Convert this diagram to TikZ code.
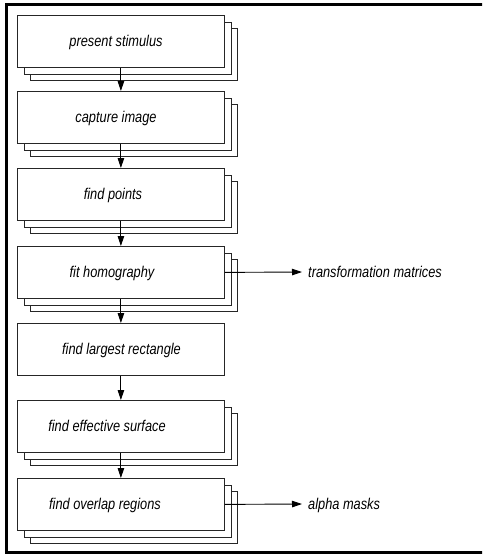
\documentclass[tikz,border=0pt]{standalone}
\usepackage{fontspec}
\setmainfont{Liberation Sans}[FakeStretch=0.82]
\usetikzlibrary{arrows.meta}

\begin{document}
\begin{tikzpicture}[x=1pt,y=-1pt,
  box/.style={draw=black!85, line width=0.8pt, fill=white,
    minimum width=207pt, minimum height=52pt, inner sep=0pt, anchor=north west},
  lbl/.style={font=\fontsize{15.6}{18}\selectfont\itshape, anchor=base, inner sep=0pt},
  flow/.style={-{Triangle[length=10pt,width=6.5pt]}, line width=0.9pt}]
\useasboundingbox (0,0) rectangle (482,554);
\clip (0,0) rectangle (482,554);
\fill[white] (0,0) rectangle (482,554);
% outer frame (right side runs off the page)
\draw[line width=3.4pt] (6.5,4.5) rectangle (520,552.5);

% process boxes, most of them stacked three deep
\foreach \i/\top/\stk in {1/15/1, 2/91/1, 3/168/1, 4/246/1, 5/323/0, 6/400/1, 7/478/1} {
  \ifnum\stk=1
    \node[box] (c\i) at (30,\top+13) {};
    \node[box] (b\i) at (23.5,\top+6.5) {};
  \fi
  \node[box] (f\i) at (17,\top) {};
}

% step labels
\node[lbl] (t1) at (116,46.5)  {present stimulus};
\node[lbl] (t2) at (116,122.5) {capture image};
\node[lbl] (t3) at (113,199.5) {find points};
\node[lbl] (t4) at (112,277.5) {fit homography};
\node[lbl] (t5) at (121.5,354.5) {find largest rectangle};
\node[lbl] (t6) at (107,431.5) {find effective surface};
\node[lbl] (t7) at (105,509.5) {find overlap regions};

% flow between steps
\foreach \a/\b in {1/2, 2/3, 3/4, 4/5, 5/6, 6/7}
  \draw[flow] (f\a.south) -- (f\b.north);

% outputs
\coordinate (tip1) at (302,272);
\coordinate (tip2) at (302,504);
\node[lbl, anchor=base west] (o1) at (308,277.5) {transformation matrices};
\node[lbl, anchor=base west] (o2) at (308,509.5) {alpha masks};
\draw[flow] (f4.east) -- (tip1);
\draw[flow] (f7.east) -- (tip2);
\end{tikzpicture}
\end{document}
